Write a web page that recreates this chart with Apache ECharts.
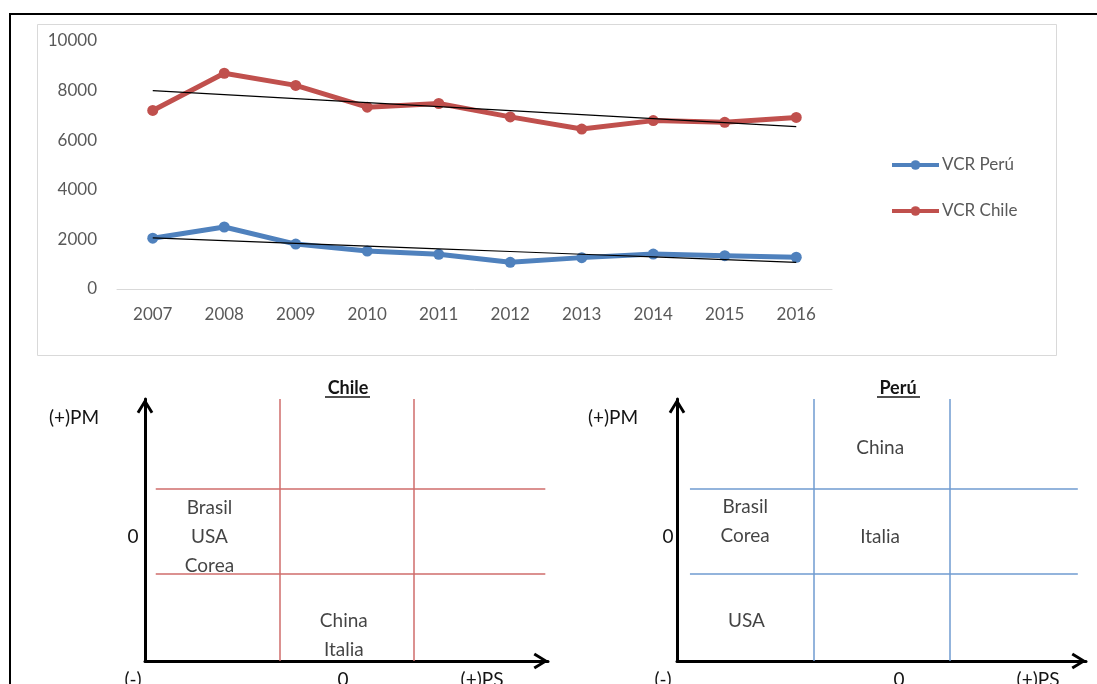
<!DOCTYPE html>
<html>
<head>
<meta charset="utf-8">
<script src="https://cdn.jsdelivr.net/npm/echarts@6/dist/echarts.min.js"></script>
<style>
  html, body { margin: 0; padding: 0; background: #fff; }
  #main { width: 1097px; height: 684px; }
</style>
</head>
<body>
<div id="main"></div>
<script>
// VCR series, 2007-2016
const years = ['2007', '2008', '2009', '2010', '2011', '2012', '2013', '2014', '2015', '2016'];
const vcrPeru = [2050, 2500, 1810, 1530, 1400, 1075, 1265, 1410, 1345, 1280];
const vcrChile = [7200, 8700, 8210, 7330, 7480, 6940, 6450, 6790, 6720, 6920];

// Quadrant diagrams: both axes run 0..3, split at 1 and 2
const quadrantCutsPS = [1, 2];
const quadrantCutsPM = [1, 1.97];
const chileNames = ['Brasil\nUSA\nCorea', 'China\nItalia'];
const chilePS = [0.48, 1.48];
const chilePM = [1.42, 0.29];
const peruNames = ['Brasil\nCorea', 'USA', 'China', 'Italia'];
const peruPS = [0.50, 0.51, 1.49, 1.49];
const peruPM = [1.60, 0.46, 2.44, 1.42];

// Least-squares linear trend evaluated at every category index
function linearTrend(values) {
  const n = values.length;
  const mx = (n - 1) / 2;
  const my = values.reduce((a, b) => a + b, 0) / n;
  let sxy = 0, sxx = 0;
  values.forEach((v, i) => { sxy += (i - mx) * (v - my); sxx += (i - mx) * (i - mx); });
  const slope = sxy / sxx;
  return values.map((_, i) => +(my + slope * (i - mx)).toFixed(1));
}

const FONT = 'Lato';
const GREY = '#595959';
const INK = '#141414';
const RED = '#C0504D';
const BLUE = '#4F81BD';
const CHEVRON = 'path://M0,13 L8,0 L16,13 L13.6,14.5 L8,5.2 L2.4,14.5 Z';

function quadrantAxes(gridIndex) {
  const common = {
    type: 'value', gridIndex: gridIndex, min: 0, max: 3,
    axisLine: { show: true, onZero: false, lineStyle: { color: '#000', width: 3 },
      symbol: ['none', CHEVRON], symbolSize: [17, 15], symbolOffset: [0, -7] },
    axisTick: { show: false }, axisLabel: { show: false }, splitLine: { show: false }
  };
  return { x: Object.assign({}, common), y: Object.assign({}, common) };
}

function boundaryLines(axisIndex, color, hStart, hEnd) {
  const data = [];
  quadrantCutsPM.forEach(c => data.push({ coords: [[hStart, c], [hEnd, c]] }));
  quadrantCutsPS.forEach(c => data.push({ coords: [[c, 0], [c, 3]] }));
  return {
    type: 'lines', coordinateSystem: 'cartesian2d',
    xAxisIndex: axisIndex, yAxisIndex: axisIndex, silent: true,
    lineStyle: { color: color, width: 1.5, opacity: 1 }, z: 1,
    data: data
  };
}

function countryLabels(axisIndex, names, ps, pm) {
  return {
    type: 'scatter', xAxisIndex: axisIndex, yAxisIndex: axisIndex, silent: true,
    symbolSize: 0, z: 3,
    label: { show: true, position: 'inside', formatter: '{b}',
      fontFamily: FONT, fontSize: 19, lineHeight: 29, color: INK },
    data: names.map((n, i) => ({ name: n, value: [ps[i], pm[i]] }))
  };
}

const chileAxes = quadrantAxes(1);
const peruAxes = quadrantAxes(2);

function tag(text, x, y, font) {
  return {
    type: 'text', x: x, y: y,
    style: { text: text, fill: INK, font: font || ('19px ' + FONT), align: 'center', verticalAlign: 'middle' }
  };
}

const option = {
  backgroundColor: '#fff',
  animation: false,
  textStyle: { fontFamily: FONT },
  grid: [
    { left: 117, right: 265, top: 41, bottom: 395 },
    { left: 145, top: 399, width: 403, height: 262 },
    { left: 677, top: 399, width: 409, height: 262 }
  ],
  legend: {
    data: ['VCR Perú', 'VCR Chile'],
    orient: 'vertical', left: 890, top: 155, padding: 0,
    itemWidth: 47, itemHeight: 12, itemGap: 26,
    lineStyle: { width: 4 },
    textStyle: { color: GREY, fontSize: 17, fontFamily: FONT, lineHeight: 20, padding: [0, 0, 0, -2] }
  },
  xAxis: [
    {
      type: 'category', gridIndex: 0, data: years, boundaryGap: true,
      axisLine: { lineStyle: { color: '#d9d9d9', width: 1 } },
      axisTick: { show: false },
      axisLabel: { color: GREY, fontSize: 17, fontFamily: FONT, margin: 17 }
    },
    chileAxes.x, peruAxes.x
  ],
  yAxis: [
    {
      type: 'value', gridIndex: 0, min: 0, max: 10000, interval: 2000,
      axisLine: { show: false }, axisTick: { show: false }, splitLine: { show: false },
      axisLabel: { color: GREY, fontSize: 17, fontFamily: FONT, margin: 20, formatter: v => String(v) }
    },
    chileAxes.y, peruAxes.y
  ],
  series: [
    {
      name: 'VCR Perú', type: 'line', data: vcrPeru, color: BLUE,
      symbol: 'circle', symbolSize: 11, lineStyle: { width: 5 }, z: 2
    },
    {
      name: 'VCR Chile', type: 'line', data: vcrChile, color: RED,
      symbol: 'circle', symbolSize: 11, lineStyle: { width: 5 }, z: 2
    },
    {
      name: 'Lineal (VCR Perú)', type: 'line', data: linearTrend(vcrPeru),
      showSymbol: false, lineStyle: { color: '#000', width: 1.2 }, color: '#000', z: 4, silent: true
    },
    {
      name: 'Lineal (VCR Chile)', type: 'line', data: linearTrend(vcrChile),
      showSymbol: false, lineStyle: { color: '#000', width: 1.2 }, color: '#000', z: 4, silent: true
    },
    boundaryLines(1, '#cf6d6b', 0.08, 2.98),
    boundaryLines(2, '#6f9bd0', 0.095, 2.94),
    countryLabels(1, chileNames, chilePS, chilePM),
    countryLabels(2, peruNames, peruPS, peruPM)
  ],
  graphic: [
    // page frame
    { type: 'polyline', shape: { points: [[10, 684], [10, 14], [1097, 14]] },
      style: { stroke: '#000', lineWidth: 2, fill: null }, z: 10 },
    // chart area border
    { type: 'rect', shape: { x: 37.5, y: 24.5, width: 1019, height: 331 },
      style: { stroke: '#d9d9d9', lineWidth: 1, fill: null }, z: 0 },
    // Chile diagram
    tag('Chile', 348, 388, 'bold 18px ' + FONT),
    { type: 'line', shape: { x1: 325, y1: 397, x2: 370, y2: 397 }, style: { stroke: INK, lineWidth: 1.3 } },
    tag('(+)PM', 74, 418),
    tag('0', 133, 537),
    tag('(-)', 133, 680),
    tag('0', 343, 680),
    tag('(+)PS', 482, 680),
    // Perú diagram
    tag('Perú', 898, 388, 'bold 18px ' + FONT),
    { type: 'line', shape: { x1: 877, y1: 397, x2: 920, y2: 397 }, style: { stroke: INK, lineWidth: 1.3 } },
    tag('(+)PM', 613, 418),
    tag('0', 668, 537),
    tag('(-)', 663, 680),
    tag('0', 899, 680),
    tag('(+)PS', 1038, 680)
  ]
};

const chart = echarts.init(document.getElementById('main'), null, { renderer: 'canvas' });
chart.setOption(option);
</script>
</body>
</html>
